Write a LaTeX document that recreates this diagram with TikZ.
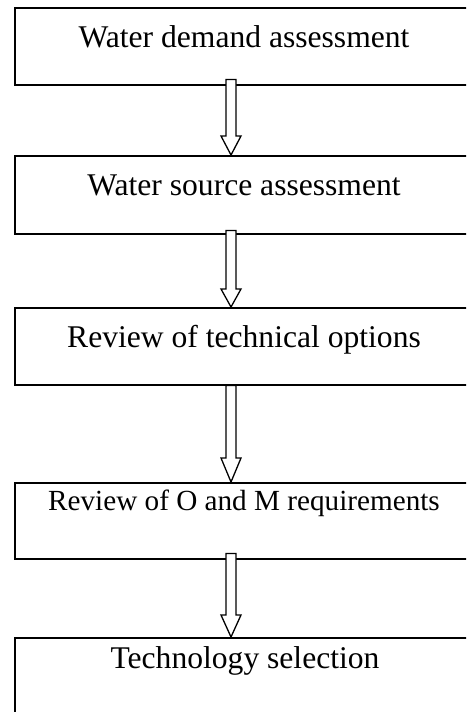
\documentclass[tikz,border=0pt]{standalone}
\usepackage{fontspec}
\setmainfont{Liberation Serif}
\usetikzlibrary{calc}
\tikzset{
  box/.style={draw, line width=1.5pt, inner sep=0pt, anchor=north west, minimum width=460pt},
  lbl/.style={anchor=base, inner sep=0pt, font=\fontsize{31.6pt}{36pt}\selectfont},
  lblsmall/.style={anchor=base, inner sep=0pt, font=\fontsize{29.2pt}{34pt}\selectfont},
  fatarrow/.style={draw, fill=white, line width=1.3pt, line join=miter}
}
\newcommand\fatarr[3]{%
  \path[fatarrow] let \p1=(#1), \p2=(#2) in
    (\x1-5pt,\y1) -- (\x1-5pt,\y2+#3) -- (\x1-10pt,\y2+#3) -- (\x2,\y2)
    -- (\x1+10pt,\y2+#3) -- (\x1+5pt,\y2+#3) -- (\x1+5pt,\y1) -- cycle;}
\begin{document}
\begin{tikzpicture}[x=1pt,y=-1pt]
\useasboundingbox (0,0) rectangle (466,712);
\clip (0,0) rectangle (466,712);
\fill[white] (0,0) rectangle (466,712);
% boxes
\node[box, minimum height=77pt] (b1) at (14,7) {};
\node[box, minimum height=78pt] (b2) at (14,155) {};
\node[box, minimum height=77pt] (b3) at (14,307) {};
\node[box, minimum height=76pt] (b4) at (14,482) {};
\node[box, minimum height=90pt] (b5) at (14,637) {};
% texts
\node[lbl] (t1) at (244,47) {Water demand assessment};
\node[lbl] (t2) at (244,195) {Water source assessment};
\node[lbl] (t3) at (244,347) {Review of technical options};
\node[lblsmall] (t4) at (244,510) {Review of O and M requirements};
\node[lbl] (t5) at (245,668) {Technology selection};
% arrow endpoints
\coordinate (a1s) at ($(b1.south west)+(217,-6)$);
\coordinate (a1e) at (b2.north west -| a1s);
\coordinate (a2s) at ($(b2.south west)+(217,-4)$);
\coordinate (a2e) at (b3.north west -| a2s);
\coordinate (a3s) at ($(b3.south west)+(217,0)$);
\coordinate (a3e) at (b4.north west -| a3s);
\coordinate (a4s) at ($(b4.south west)+(217,-6)$);
\coordinate (a4e) at (b5.north west -| a4s);
\fatarr{a1s}{a1e}{19pt}
\fatarr{a2s}{a2e}{18pt}
\fatarr{a3s}{a3e}{24pt}
\fatarr{a4s}{a4e}{22pt}
\end{tikzpicture}
\end{document}
